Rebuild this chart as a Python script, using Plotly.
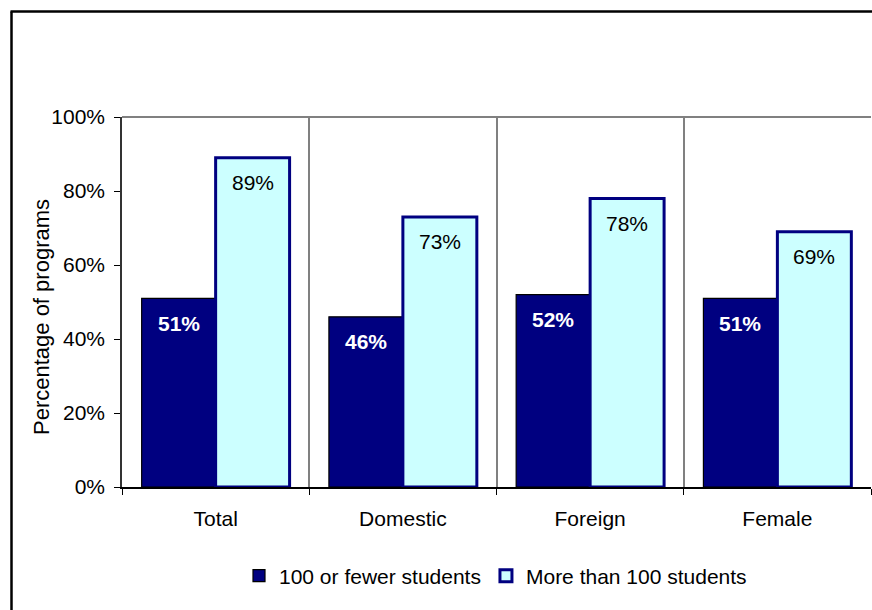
import plotly.graph_objects as go

categories = ["Total", "Domestic", "Foreign", "Female"]
small_programs = [0.51, 0.46, 0.52, 0.51]
large_programs = [0.89, 0.73, 0.78, 0.69]
series_names = ["100 or fewer students", "More than 100 students"]
y_ticks = [0, 0.2, 0.4, 0.6, 0.8, 1.0]
y_title = "Percentage of programs"

FONT = "Liberation Sans, Arial, sans-serif"
FS = 21
W, H = 872, 610
L, R, T, B = 122, 1, 117, 123
pw, ph = W - L - R, H - T - B

fig = go.Figure()
fig.add_trace(go.Bar(
    x=categories, y=small_programs, name=series_names[0],
    marker=dict(color="#000080", line=dict(color="#000000", width=1.2)),
))
fig.add_trace(go.Bar(
    x=categories, y=large_programs, name=series_names[1],
    marker=dict(color="#CCFFFF", line=dict(color="#000080", width=3)),
))

off = (1 - 0.21) / 4
ann = []
for i, v in enumerate(small_programs):
    ann.append(dict(x=i - off, y=v, xref="x", yref="y", text=f"<b>{round(v*100)}%</b>",
                    showarrow=False, yshift=-25, font=dict(family=FONT, size=FS, color="white")))
for i, v in enumerate(large_programs):
    ann.append(dict(x=i + off, y=v, xref="x", yref="y", text=f"{round(v*100)}%",
                    showarrow=False, yshift=-25, font=dict(family=FONT, size=FS, color="black")))

def px_x(p):
    return (p - L) / pw

def px_y(p):
    return (H - B - p) / ph

ann.append(dict(x=px_x(41), y=px_y(317), xref="paper", yref="paper", text=y_title,
                textangle=-90, showarrow=False, xanchor="center", yanchor="middle",
                font=dict(family=FONT, size=22, color="black")))

shapes = [
    dict(type="line", xref="paper", yref="paper", x0=0, x1=1, y0=1, y1=1,
         line=dict(color="#808080", width=2)),
    dict(type="line", xref="paper", yref="paper", x0=px_x(11.5), x1=px_x(11.5),
         y0=px_y(11.5), y1=px_y(640), line=dict(color="black", width=2.5)),
    dict(type="line", xref="paper", yref="paper", x0=px_x(10.5), x1=px_x(900),
         y0=px_y(11.5), y1=px_y(11.5), line=dict(color="black", width=2.5)),
]

fig.update_layout(
    width=W, height=H,
    margin=dict(l=L, r=R, t=T, b=B, autoexpand=False),
    paper_bgcolor="white", plot_bgcolor="white",
    barmode="group", bargap=0.21, bargroupgap=0,
    font=dict(family=FONT, size=FS, color="black"),
    showlegend=True,
    legend=dict(orientation="h", x=px_x(239), xanchor="left", y=px_y(576), yanchor="middle",
                font=dict(family=FONT, size=FS, color="black"), itemwidth=30,
                tracegroupgap=0, bgcolor="rgba(0,0,0,0)"),
    annotations=ann,
    shapes=shapes,
    xaxis=dict(type="category", tickson="boundaries", ticks="outside", ticklen=6,
               tickcolor="black", showgrid=True, gridcolor="#808080", gridwidth=1.5,
               showline=True, linecolor="black", linewidth=1.5, ticklabelstandoff=12,
               tickfont=dict(family=FONT, size=FS), range=[-0.5, 3.5]),
    yaxis=dict(range=[0, 1], tickvals=y_ticks, tickformat=".0%", ticks="outside",
               ticklen=6, tickcolor="black", showgrid=False, zeroline=False,
               showline=True, linecolor="#333333", linewidth=1.5, ticklabelstandoff=5,
               tickfont=dict(family=FONT, size=FS)),
)

fig.write_html("out.html")
